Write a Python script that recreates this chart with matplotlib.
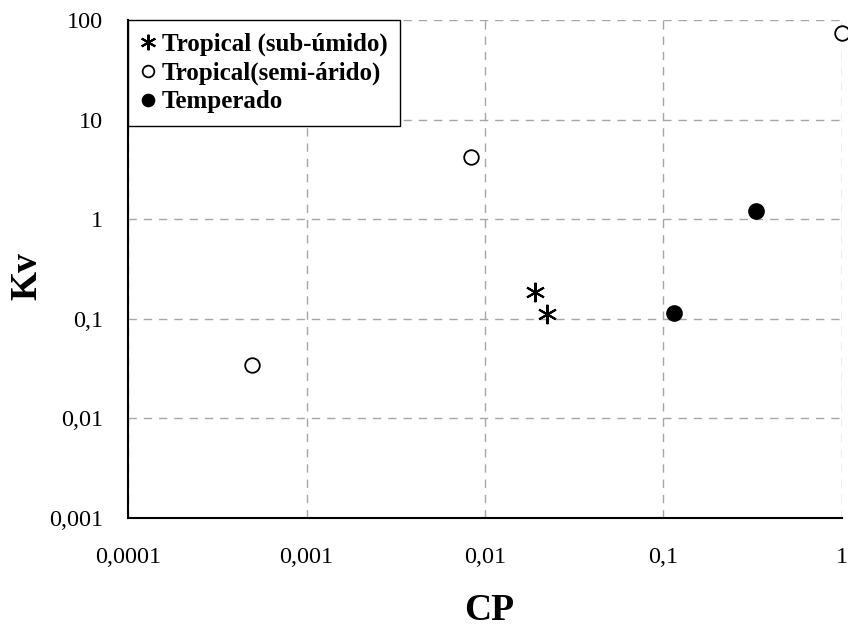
import matplotlib
matplotlib.use("Agg")
import matplotlib.pyplot as plt
from matplotlib.ticker import FixedLocator, NullLocator

plt.rcParams['font.family'] = ['Liberation Serif', 'DejaVu Serif']

# Data (CP, Kv) per climate group
sub_umido_cp = [0.0191, 0.0222]
sub_umido_kv = [0.186, 0.112]
semi_arido_cp = [0.000496, 0.00836, 1.0]
semi_arido_kv = [0.0344, 4.2, 74.0]
temperado_cp = [0.1146, 0.33]
temperado_kv = [0.114, 1.21]

x_ticks = [0.0001, 0.001, 0.01, 0.1, 1]
x_tick_labels = ['0,0001', '0,001', '0,01', '0,1', '1']
y_ticks = [0.001, 0.01, 0.1, 1, 10, 100]
y_tick_labels = ['0,001', '0,01', '0,1', '1', '10', '100']

fig = plt.figure(figsize=(8.48, 6.31), dpi=100)
ax = fig.add_axes([128 / 848, 113 / 631, 714 / 848, 498 / 631])

ax.set_xscale('log')
ax.set_yscale('log')
ax.set_xlim(x_ticks[0], x_ticks[-1])
ax.set_ylim(y_ticks[0], y_ticks[-1])

ax.xaxis.set_major_locator(FixedLocator(x_ticks))
ax.yaxis.set_major_locator(FixedLocator(y_ticks))
ax.xaxis.set_minor_locator(NullLocator())
ax.yaxis.set_minor_locator(NullLocator())
ax.set_xticklabels(x_tick_labels)
ax.set_yticklabels(y_tick_labels)
ax.tick_params(axis='both', length=0, labelsize=17.5)
ax.tick_params(axis='x', pad=21)
ax.tick_params(axis='y', pad=18)

ax.grid(True, color='#a6a6a6', linestyle=(0, (6, 5)), linewidth=1.0)
ax.set_axisbelow(True)
for side in ('top', 'right'):
    ax.spines[side].set_visible(False)
for side in ('left', 'bottom'):
    ax.spines[side].set_linewidth(1.5)
    ax.spines[side].set_color('black')

ax.plot(sub_umido_cp, sub_umido_kv, linestyle='none', marker=(6, 2, 0),
        markersize=14, markeredgewidth=1.5, color='black',
        label='Tropical (sub-úmido)', clip_on=False)
ax.plot(semi_arido_cp, semi_arido_kv, linestyle='none', marker='o',
        markersize=10.5, markeredgewidth=1.3, markerfacecolor='white',
        markeredgecolor='black', label='Tropical(semi-árido)', clip_on=False)
ax.plot(temperado_cp, temperado_kv, linestyle='none', marker='o',
        markersize=11, markerfacecolor='black', markeredgecolor='black',
        label='Temperado', clip_on=False)

leg = ax.legend(loc='upper left', bbox_to_anchor=(0, 1), borderaxespad=0,
                prop={'size': 18, 'weight': 'bold'}, frameon=True,
                fancybox=False, edgecolor='black', framealpha=1,
                handlelength=0.6, handletextpad=0.25, markerscale=0.8,
                borderpad=0.5, labelspacing=0.22)
leg.get_frame().set_linewidth(1.0)

fig.text(489 / 848, 1 - 611 / 631, 'CP', fontsize=27, fontweight='bold',
         ha='center', va='center')
fig.text(27 / 848, 1 - 276 / 631, 'Kv', fontsize=27, fontweight='bold',
         ha='center', va='center', rotation=90)

fig.savefig('out.png', dpi=100)
